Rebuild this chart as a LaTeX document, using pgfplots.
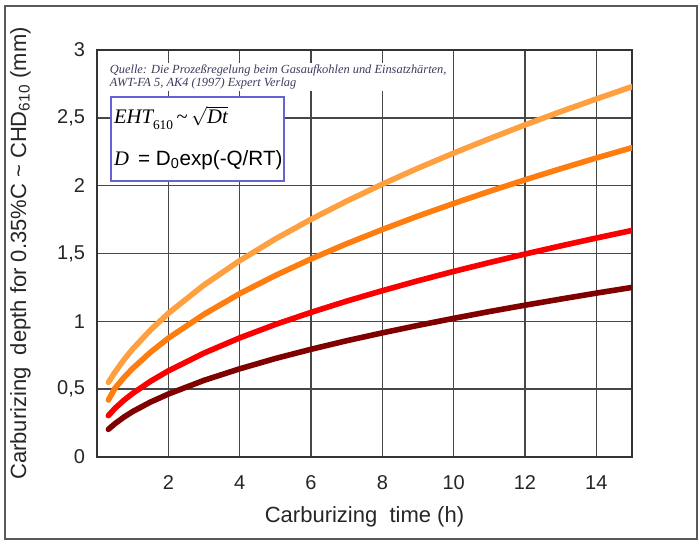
\documentclass[border=0pt]{standalone}
\usepackage{pgfplots}
\pgfplotsset{compat=1.18}
\usepackage{pgfplotstable}
\usepackage{fontspec}
\setmainfont{Liberation Sans}
\newfontfamily\serifit{Liberation Serif}
\definecolor{c1050}{RGB}{255,160,64}
\definecolor{c1000}{RGB}{255,125,15}
\definecolor{c950}{RGB}{250,0,0}
\definecolor{c900}{RGB}{128,0,0}
\definecolor{l1050}{RGB}{255,168,85}
\definecolor{l1000}{RGB}{255,140,65}
\definecolor{l950}{RGB}{255,45,85}
\definecolor{l900}{RGB}{140,45,55}
\definecolor{boxblue}{RGB}{100,100,215}
\definecolor{quelle}{RGB}{60,60,95}

\pgfplotstableread{
t      d1050  d1000  d950   d900
0.32   0.550  0.420  0.305  0.204
0.5    0.624  0.506  0.358  0.245
0.75   0.715  0.584  0.417  0.293
1      0.796  0.653  0.469  0.335
1.5    0.936  0.772  0.558  0.405
2      1.059  0.876  0.635  0.464
3      1.268  1.052  0.766  0.565
4      1.447  1.204  0.878  0.650
5      1.607  1.338  0.977  0.726
6      1.752  1.460  1.066  0.794
7      1.886  1.572  1.149  0.857
8      2.011  1.677  1.226  0.915
9      2.129  1.776  1.299  0.970
10     2.240  1.869  1.368  1.022
11     2.346  1.958  1.433  1.072
12     2.448  2.043  1.496  1.119
13     2.546  2.125  1.556  1.164
14     2.639  2.204  1.614  1.208
15     2.730  2.280  1.670  1.250
}\depth

\begin{document}
\begin{tikzpicture}
\useasboundingbox (-72.75pt,-62.25pt) rectangle (452.25pt,342.75pt);
\draw[black!65, line width=1.1pt] (-69pt,-61.5pt) rectangle (450pt,338.25pt);
\begin{axis}[at={(0,0)}, anchor=south west, scale only axis,
  width=401.25pt, height=305.25pt,
  xmin=0, xmax=15, ymin=0, ymax=3,
  xtick={2,4,6,8,10,12,14}, ytick={0,0.5,1,1.5,2,2.5,3},
  grid=major, major grid style={black!72, line width=1.1pt},
  axis line style={black!80, line width=1.5pt},
  tick style={black!72, line width=1pt}, major tick length=5pt,
  /pgf/number format/assume math mode=true, /pgf/number format/use comma,
  ticklabel style={font=\fontsize{15}{18}\selectfont, text=black!85},
  yticklabel style={xshift=-5.5pt},
  xticklabel style={anchor=center, yshift=-19.5pt},
  xlabel={Carburizing\ \ time (h)},
  ylabel={Carburizing\ \ depth for 0.35\%C \textasciitilde\ CHD\textsubscript{610} (mm)},
  label style={font=\fontsize{16.5}{19}\selectfont, text=black!85},
  x label style={at={(axis description cs:0.5,-0.147)}, anchor=center},
  y label style={at={(axis description cs:-0.143,0.5)}, anchor=center, rotate=0},
  clip=true,
]
\addplot[c900, line width=4.2pt, line cap=round] table[x=t, y=d900] {\depth};
\addplot[c950, line width=4.2pt, line cap=round] table[x=t, y=d950] {\depth};
\addplot[c1000, line width=4.2pt, line cap=round] table[x=t, y=d1000] {\depth};
\addplot[c1050, line width=4.2pt, line cap=round] table[x=t, y=d1050] {\depth};

\node[anchor=north west, fill=white, inner xsep=2pt, inner ysep=1pt, align=left, text=quelle,
  font=\serifit\itshape\fontsize{9.3}{10.3}\selectfont] at (axis cs:0.28,2.905)
  {Quelle: Die Prozeßregelung beim Gasaufkohlen und Einsatzhärten,\\AWT-FA 5, AK4 (1997) Expert Verlag};
\draw[boxblue, fill=white, line width=1.1pt] (axis cs:0.39,2.034) rectangle (axis cs:5.24,2.653);
\node[anchor=west, inner sep=0pt, font=\fontsize{15.5}{18}\selectfont] at (axis cs:0.47,2.50)
  {{\serifit\itshape EHT}{\serifit\fontsize{10}{12}\selectfont\raisebox{-4pt}{610}}\,{\serifit\textasciitilde}\,$\sqrt{\mbox{\serifit\itshape Dt}}$};
\node[anchor=west, inner sep=0pt, font=\fontsize{15.5}{18}\selectfont] at (axis cs:0.47,2.19)
  {{\serifit\itshape D}\ \,= D\textsubscript{0}exp(-Q/RT)};

\node[anchor=west, text=l1050, font=\fontsize{13.5}{16}\selectfont] at (axis cs:15,2.72) {1050°C};
\node[anchor=west, text=l1000, font=\fontsize{13.5}{16}\selectfont] at (axis cs:15,2.25) {1000°C};
\node[anchor=west, text=l950, font=\fontsize{13.5}{16}\selectfont] at (axis cs:15,1.66) {950°C};
\node[anchor=west, text=l900, font=\fontsize{13.5}{16}\selectfont] at (axis cs:15,1.23) {900°C};
\end{axis}
\end{tikzpicture}
\end{document}
